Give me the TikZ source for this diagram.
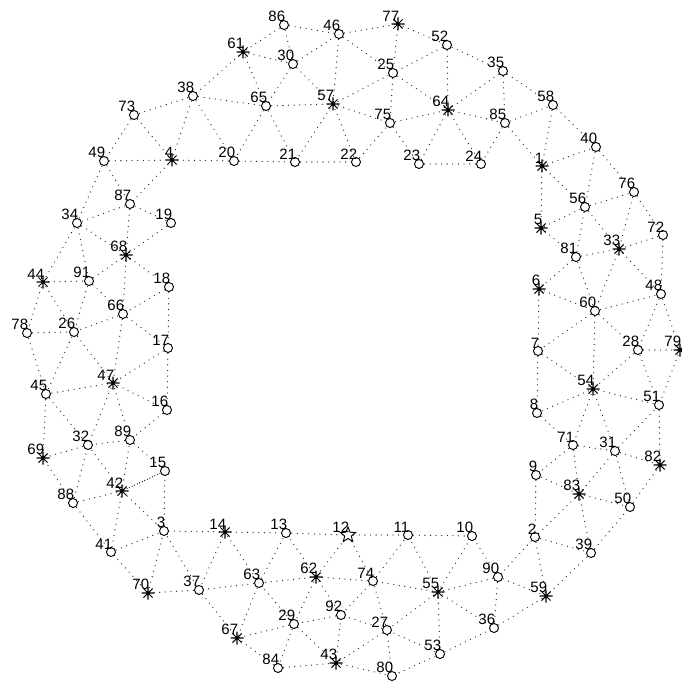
\documentclass[tikz,border=0pt]{standalone}
\usepackage{fontspec}
\setmainfont{Liberation Sans}
\usetikzlibrary{shapes.geometric}

\tikzset{
  edge/.style={black!85, line width=1.1pt, line cap=round, dash pattern=on 0pt off 4.8pt},
  circ/.style={draw, circle, fill=white, line width=0.8pt, minimum size=2.7mm, inner sep=0pt},
  starmk/.style={draw, star, star points=5, star point ratio=2.3, fill=white, line width=0.8pt, minimum size=4.8mm, inner sep=0pt},
  lbl/.style={anchor=south east, inner sep=0pt, xshift=0.4mm, yshift=0.8mm, font=\fontsize{12.8}{13}\selectfont},
  astmark/.pic={\draw[line width=0.9pt] (-6.5,0) -- (6.5,0) (0,-6.5) -- (0,6.5) (-4.6,-4.6) -- (4.6,4.6) (-4.6,4.6) -- (4.6,-4.6);}
}

\begin{document}
\begin{tikzpicture}[x=0.3mm, y=-0.3mm]
\useasboundingbox (0,0) rectangle (682,681);

% node positions
\foreach \n/\x/\y in {1/542/166, 2/535/537, 3/164/531, 4/172/160, 5/541/228, 6/539/289,
  7/538/351, 8/537/413, 9/536/475, 10/472/536, 11/408/535, 12/348/535, 13/286/533,
  14/225/532, 15/165/471, 16/167/410, 17/168/348, 18/169/287, 19/171/223, 20/234/161,
  21/295/162, 22/356/162, 23/419/164, 24/481/164, 25/393/73, 26/74/332, 27/387/630,
  28/638/350, 29/294/624, 30/293/64, 31/615/451, 32/88/445, 33/619/249, 34/77/223,
  35/503/71, 36/494/628, 37/199/590, 38/193/96, 39/591/553, 40/596/147, 41/111/552,
  42/122/491, 43/336/663, 44/43/282, 45/46/394, 46/339/34, 47/113/383, 48/661/294,
  49/104/161, 50/630/507, 51/659/405, 52/447/45, 53/440/654, 54/593/389, 55/438/592,
  56/585/207, 57/333/104, 58/553/105, 59/546/596, 60/595/311, 61/243/52, 62/316/577,
  63/259/583, 64/448/110, 65/266/106, 66/123/314, 67/237/638, 68/126/255, 69/43/458,
  70/148/593, 71/573/445, 72/663/235, 73/134/115, 74/373/581, 75/390/123, 76/634/192,
  77/398/24, 78/27/333, 79/680/350, 80/392/676, 81/576/257, 82/660/465, 83/579/494,
  84/278/668, 85/505/123, 86/284/25, 87/130/204, 88/73/503, 89/130/440, 90/498/577,
  91/89/281, 92/341/615}
  \coordinate (n\n) at (\x,\y);

% dotted mesh edges
\foreach \a/\b in {86/61, 86/46, 86/30, 61/30, 61/38, 61/65, 30/46, 30/65, 30/57,
  38/73, 38/65, 38/4, 38/20, 65/20, 65/21, 65/57, 57/21, 73/49, 73/4, 49/4, 4/20,
  20/21, 21/22, 49/87, 49/34, 4/87, 87/34, 87/19, 87/68, 19/68, 34/68, 34/44, 34/91,
  46/57, 46/77, 46/25, 77/52, 77/25, 52/25, 52/64, 52/35, 25/64, 25/75, 25/57, 57/75,
  57/22, 22/75, 75/23, 75/64, 64/35, 64/85, 64/23, 64/24, 35/85, 35/58, 85/58, 85/24,
  85/1, 23/24, 58/1, 58/40,
  1/40, 1/56, 1/5, 40/56, 40/76, 56/76, 56/5, 56/81, 56/33, 76/33, 76/72, 72/33, 72/48,
  5/81, 81/33, 81/6, 81/60, 33/60, 33/48, 6/60, 6/7, 60/48, 60/7, 60/28, 60/54, 48/28,
  48/79, 28/79, 28/54, 28/51, 79/51, 7/54, 7/8, 8/54, 8/71, 54/71, 54/31, 54/51, 71/31,
  71/9, 71/83, 31/51, 31/82, 31/50, 31/83, 51/82, 50/82, 9/83, 9/2, 83/2, 83/39, 83/50,
  2/39, 2/59, 2/90, 59/39, 39/50,
  90/36, 90/59, 90/10, 90/55, 36/59, 55/36, 55/53, 55/27, 55/74, 55/11, 55/10, 53/36,
  53/80, 53/27, 27/80, 27/43, 27/74, 27/92, 43/80, 43/92, 74/92, 74/11, 74/12, 74/62,
  12/11, 11/10, 12/62, 12/13, 62/13, 62/63, 62/29, 62/92, 92/29, 29/43, 29/84, 29/67,
  29/63, 84/43, 84/67, 63/13, 63/14, 63/37, 63/67, 14/13, 14/37, 14/3, 37/3, 37/70,
  37/67, 70/3, 70/41, 41/3, 41/42, 41/88, 3/42, 3/15, 42/88, 42/15, 42/89, 42/32,
  88/32, 88/69,
  44/91, 91/68, 68/18, 68/66, 44/78, 44/26, 91/26, 91/66, 18/66, 18/17, 66/26, 66/17,
  66/47, 78/26, 78/45, 26/45, 26/47, 17/47, 17/16, 47/45, 47/16, 47/32, 47/89, 45/69,
  45/32, 16/89, 89/32, 89/15, 32/69, 15/42}
  \draw[edge] (n\a) -- (n\b);

% circle markers
\foreach \n in {2,3,7,8,9,10,11,13,15,16,17,18,19,20,21,22,23,24,25,26,27,28,29,30,
  31,32,34,35,36,37,38,39,40,41,45,46,48,49,50,51,52,53,56,58,60,63,65,66,71,72,73,
  74,75,76,78,80,81,84,85,86,87,88,89,90,91,92}
  \node[circ] (m\n) at (n\n) {};

% asterisk markers
\foreach \n in {1,4,5,6,14,33,42,43,44,47,54,55,57,59,61,62,64,67,68,69,70,77,79,82,83}
  \pic at (n\n) {astmark};

% the one star
\node[starmk] (m12) at (n12) {};

% numbers
\foreach \n in {1,...,92}
  \node[lbl] (l\n) at (n\n) {\n};
\end{tikzpicture}
\end{document}
